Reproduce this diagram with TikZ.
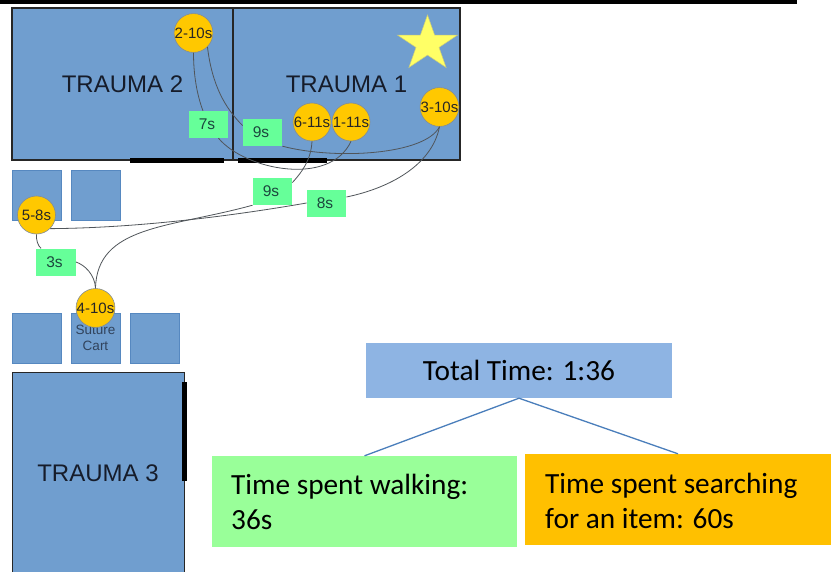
\documentclass[tikz,border=0pt]{standalone}
\usepackage{fontspec}
\setmainfont{Liberation Sans}
\newfontfamily\calib{Carlito}
\usetikzlibrary{shapes.geometric,positioning}
\definecolor{roomblue}{RGB}{112,158,207}
\definecolor{boxedge}{RGB}{86,136,192}
\definecolor{stopfill}{RGB}{255,200,0}
\definecolor{stopedge}{RGB}{130,140,150}
\definecolor{timefill}{RGB}{102,255,153}
\definecolor{starfill}{RGB}{255,255,102}
\definecolor{starline}{RGB}{205,205,120}
\definecolor{totalfill}{RGB}{142,180,227}
\definecolor{walkfill}{RGB}{153,255,153}
\definecolor{searchfill}{RGB}{255,192,0}
\definecolor{treeline}{RGB}{74,126,187}
\definecolor{pathline}{RGB}{80,85,90}
\definecolor{roomtext}{RGB}{22,28,42}
\definecolor{timetext}{RGB}{28,70,62}
\tikzset{
 px/.style={x=1pt,y=-1pt},
 room/.style={draw=black!85,line width=1.3pt,fill=roomblue,inner sep=0pt,text=roomtext,font=\fontsize{24}{28}\selectfont},
 roomlabel/.style={inner sep=0pt,text=roomtext,font=\fontsize{24}{28}\selectfont},
 smallbox/.style={draw=boxedge,line width=.7pt,fill=roomblue,inner sep=0pt,minimum width=49pt,minimum height=50pt,align=center,text=roomtext!70!roomblue,font=\fontsize{13.5}{16}\selectfont},
 door/.style={fill=black,inner sep=0pt},
 stopc/.style={circle,draw=stopedge,line width=.6pt,fill=stopfill,minimum size=38pt,inner sep=0pt,text=black!85,font=\fontsize{15}{18}\selectfont},
 timebox/.style={fill=timefill,minimum width=39.5pt,minimum height=27pt,inner sep=0pt,text=timetext,font=\fontsize{15.5}{18}\selectfont,execute at begin node={\kern-3pt}},
 walkpath/.style={draw=pathline,line width=.8pt},
 treebox/.style={inner sep=0pt,text=black,font=\calib\fontsize{29.3}{35}\selectfont},
 treeedge/.style={draw=treeline,line width=1.3pt},
}
\begin{document}
\begin{tikzpicture}[px]
\path[use as bounding box] (0,0) rectangle (837,571);
\clip (0,0) rectangle (837,571);
\fill[white] (0,0) rectangle (837,571);
\node[door,minimum width=797pt,minimum height=4pt,anchor=north west] (topbar) at (0,0) {};
% rooms
\node[room,minimum width=221pt,minimum height=152pt] (t2) at (122.5,84) {TRAUMA 2};
\node[room,minimum width=227pt,minimum height=152pt] (t1) at (346.5,84) {TRAUMA 1};
\node[room,minimum width=172pt,minimum height=210pt,anchor=north west] (t3) at (12,372) {};
\node[roomlabel] (t3label) at (98,473) {TRAUMA 3};
\node[door,minimum width=94pt,minimum height=4.5pt] (d2) at (177,160.5) {};
\node[door,minimum width=89pt,minimum height=4.5pt] (d1) at (282.5,160.5) {};
\node[door,minimum width=5pt,minimum height=99pt] (d3) at (184,431.5) {};
% small boxes
\node[smallbox] (b1) at (36.5,195) {};
\node[smallbox] (b2) at (95.5,195) {};
\node[smallbox] (b3) at (36.5,338) {};
\node[smallbox] (b4) at (95.5,338) {Suture\\Cart};
\node[smallbox] (b5) at (154.5,338) {};
% star
\node[star,star points=5,star point ratio=2.618,draw=starline,line width=.5pt,fill=starfill,minimum size=58pt,inner sep=0pt,xscale=1.09,transform shape] (star) at (427.5,44) {};
% stops
\node[stopc] (c2) at (193.5,33) {2-10s};
\node[stopc] (c6) at (312,122) {6-11s};
\node[stopc] (c1) at (351,122) {1-11s};
\node[stopc] (c3) at (439.5,107) {3-10s};
\node[stopc] (c5) at (36.5,215) {5-8s};
\node[stopc] (c4) at (95.5,308) {4-10s};
% times
\node[timebox] (g7) at (208.5,124.5) {7s};
\node[timebox] (g9a) at (262.5,132.5) {9s};
\node[timebox] (g9b) at (272.5,191.5) {9s};
\node[timebox] (g8) at (326.5,203) {8s};
\node[timebox] (g3) at (56,262) {3s};
% connectors
\coordinate (g7in) at ([xshift=-5.5pt]g7.north);
\coordinate (g7out) at ([xshift=10pt]g7.south);
\coordinate (g9ain) at ([yshift=7pt]g9a.west);
\coordinate (g9bin) at ([yshift=9pt]g9b.east);
\coordinate (g8in) at ([yshift=6pt]g8.east);
\coordinate (g8out) at (g8.west);
\coordinate (g3in) at ([xshift=5pt]g3.north west);
\path[walkpath] (c2.south) .. controls (193.5,75) and (197,95) .. (g7in);
\path[walkpath] (g7out) .. controls (245,170) and (330,187) .. (c1.south);
\path[walkpath] (c2.-45) .. controls (212,85) and (225,108) .. (g9ain);
\path[walkpath] (g9a.south east) .. controls (335,160) and (425,155) .. (c3.south);
\path[walkpath] (c6.south) .. controls (311,160) and (302,172) .. (g9bin);
\path[walkpath] (g9b.south west) .. controls (170,228) and (97,225) .. (c4.north);
\path[walkpath] (c3.south) .. controls (432,165) and (390,188) .. (g8in);
\path[walkpath] (g8out) .. controls (220,218) and (130,228) .. (c5.-45);
\path[walkpath] (c5.south) .. controls (36,240) and (38,246) .. (g3in);
\path[walkpath] (g3.east) .. controls (85,265) and (95,275) .. (c4.north);
% tree
\node[fill=totalfill,minimum width=306pt,minimum height=55pt,treebox] (total) at (519,370.5) {Total Time: 1:36};
\node[fill=walkfill,minimum width=305pt,minimum height=91pt,treebox] (walk) at (364.5,501.5) {};
\node[fill=searchfill,minimum width=306pt,minimum height=91pt,treebox] (search) at (678,499.5) {};
\node[treebox,anchor=west,align=left] (walktext) at (231,502) {Time spent walking:\\36s};
\node[treebox,anchor=west,align=left] (searchtext) at (545,501) {Time spent searching\\for an item: 60s};
\draw[treeedge] (total.south) -- (walk.north);
\draw[treeedge] (total.south) -- (search.north);
\end{tikzpicture}
\end{document}
